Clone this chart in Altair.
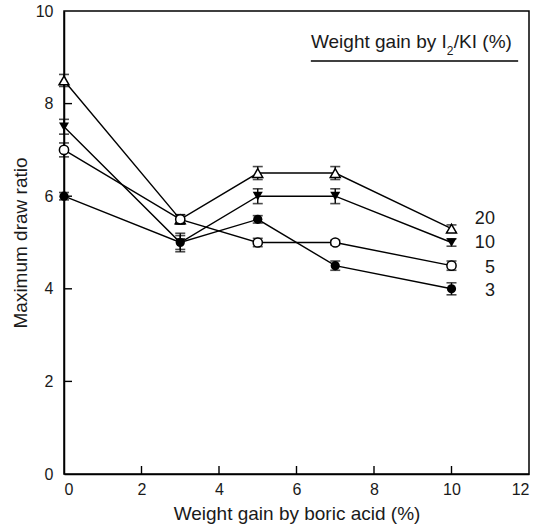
import altair as alt
import pandas as pd

x_vals = [0, 3, 5, 7, 10]
series_names = ["20", "10", "5", "3"]
y20 = [8.5, 5.5, 6.5, 6.5, 5.3]
y10 = [7.5, 5.0, 6.0, 6.0, 5.0]
y5 = [7.0, 5.5, 5.0, 5.0, 4.5]
y3 = [6.0, 5.0, 5.5, 4.5, 4.0]
e20 = [0.13, 0.1, 0.14, 0.14, 0.08]
e10 = [0.16, 0.2, 0.16, 0.16, 0.08]
e5 = [0.15, 0.1, 0.09, 0.05, 0.1]
e3 = [0.08, 0.15, 0.08, 0.1, 0.13]
label_x = [11.12, 11.12, 11.12, 11.12]
label_y = [5.5, 4.98, 4.45, 3.95]
title_parts = ["Weight gain by I", "2", "/KI (%)"]
title_x = [9.88, 9.88, 10.06]
title_y = [9.2, 9.06, 9.2]
underline_x = [6.37, 11.72]
underline_y = 8.92
x_ticks = [2, 4, 6, 8, 10]
y_ticks = [2, 4, 6, 8]

W, H = 465, 463
FONT = "Liberation Sans"

rows = []
for name, ys, es in zip(series_names, [y20, y10, y5, y3], [e20, e10, e5, e3]):
    for x, y, e in zip(x_vals, ys, es):
        rows.append({"series": name, "x": x, "y": y, "lo": y - e, "hi": y + e})
df = pd.DataFrame(rows)

xs = alt.Scale(domain=[0, 12], nice=False)
ys_ = alt.Scale(domain=[0, 10], nice=False)
X = alt.X("x:Q", scale=xs, axis=alt.Axis(values=[0, 2, 4, 6, 8, 10, 12], title="Weight gain by boric acid (%)",
                                         labelPadding=7, titleY=45, titleBaseline="alphabetic"))
Y = alt.Y("y:Q", scale=ys_, axis=alt.Axis(values=[0, 2, 4, 6, 8, 10], title="Maximum draw ratio",
                                         labelPadding=11, titleX=-44, titleBaseline="middle"))

base = alt.Chart(df)
lines = base.mark_line(color="black", strokeWidth=1.4).encode(x=X, y=Y, detail="series:N")
err = base.mark_rule(color="black", strokeWidth=1.4).encode(x="x:Q", y="lo:Q", y2="hi:Q")
cap_lo = base.mark_tick(color="black", orient="horizontal", size=10, thickness=1.6).encode(x="x:Q", y="lo:Q")
cap_hi = base.mark_tick(color="black", orient="horizontal", size=10, thickness=1.6).encode(x="x:Q", y="hi:Q")

styles = {
    "20": ("triangle-up", False, 100),
    "10": ("triangle-down", True, 100),
    "5": ("circle", False, 85),
    "3": ("circle", True, 85),
}
pts = []
for name, (shape, filled, sz) in styles.items():
    pts.append(
        alt.Chart(df[df.series == name]).mark_point(
            shape=shape, filled=filled, color="black",
            fill="black" if filled else "white", fillOpacity=1,
            size=sz, strokeWidth=1.5, opacity=1
        ).encode(x="x:Q", y="y:Q")
    )

lab_df = pd.DataFrame({"x": label_x, "y": label_y, "t": series_names})
labels = alt.Chart(lab_df).mark_text(align="right", baseline="middle", fontSize=18, font=FONT, color="#1a1a1a").encode(
    x="x:Q", y="y:Q", text="t:N")

t1 = alt.Chart(pd.DataFrame({"x": [title_x[0]], "y": [title_y[0]], "t": [title_parts[0]]})).mark_text(
    align="right", baseline="alphabetic", fontSize=19, font=FONT, color="#1a1a1a").encode(x="x:Q", y="y:Q", text="t:N")
t2 = alt.Chart(pd.DataFrame({"x": [title_x[1]], "y": [title_y[1]], "t": [title_parts[1]]})).mark_text(
    align="left", baseline="alphabetic", fontSize=12, font=FONT, color="#1a1a1a").encode(x="x:Q", y="y:Q", text="t:N")
t3 = alt.Chart(pd.DataFrame({"x": [title_x[2]], "y": [title_y[2]], "t": [title_parts[2]]})).mark_text(
    align="left", baseline="alphabetic", fontSize=19, font=FONT, color="#1a1a1a").encode(x="x:Q", y="y:Q", text="t:N")
ul_df = pd.DataFrame({"x": [underline_x[0]], "x2": [underline_x[1]], "y": [underline_y]})
underline = alt.Chart(ul_df).mark_rule(color="black", strokeWidth=1.4).encode(x="x:Q", x2="x2:Q", y="y:Q")

xt = alt.Chart(pd.DataFrame({"x": x_ticks})).mark_rule(color="black", strokeWidth=1.4).encode(
    x="x:Q", y=alt.value(H), y2=alt.value(H - 8))
yt = alt.Chart(pd.DataFrame({"y": y_ticks})).mark_rule(color="black", strokeWidth=1.4).encode(
    y="y:Q", x=alt.value(0), x2=alt.value(8))

chart = alt.layer(lines, err, cap_lo, cap_hi, *pts, labels, t1, t2, t3, underline, xt, yt).properties(
    width=W, height=H,
    autosize=alt.AutoSizeParams(type="none"),
    padding={"left": 64, "top": 11, "right": 13, "bottom": 53},
).configure_view(stroke="black", strokeWidth=1.5).configure_axis(
    grid=False, domainColor="black", domainWidth=1.5, ticks=False,
    labelFont=FONT, titleFont=FONT,
    labelFontSize=16, titleFontSize=19, labelColor="#1a1a1a", titleColor="#1a1a1a",
    titleFontWeight="normal",
)

chart.save("out.html", embed_options={"renderer": "svg", "actions": False})
